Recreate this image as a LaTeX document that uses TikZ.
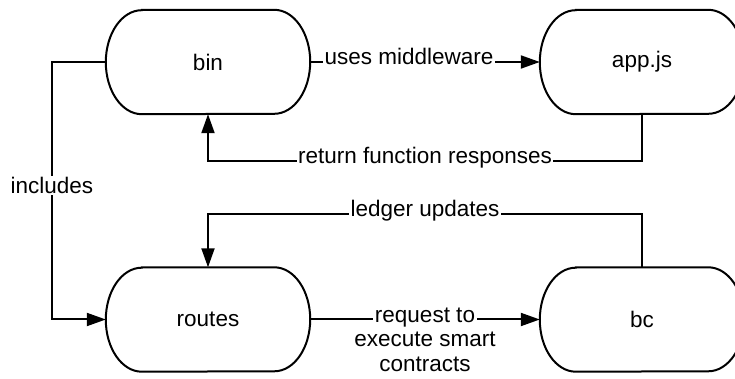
\documentclass[tikz,border=0pt]{standalone}
\usepackage{fontspec}
\setmainfont{Liberation Sans}
\usetikzlibrary{arrows.meta}
\begin{document}
\begin{tikzpicture}[x=1pt,y=1pt,
  every node/.append style={font=\fontsize{22.5}{24.5}\selectfont},
  term/.style={minimum width=204pt,minimum height=104pt,inner sep=0pt},
  conn/.style={line width=2pt},
  arr/.style={conn,-{Triangle[length=19pt,width=13pt]}},
  lbl/.style={fill=white,inner sep=1.5pt,anchor=mid},
  plain/.style={inner sep=0pt,anchor=base}]
\useasboundingbox (0,0) rectangle (735,379);
\node[term] (bin) at (208,317) {bin};
\node[term] (app) at (642,317) {app.js};
\node[term] (routes) at (208,59.5) {routes};
\node[term] (bc) at (642,59.5) {bc};
\foreach \n in {bin,app,routes,bc}{
  \draw[line width=2pt] ([xshift=36pt]\n.north west) -- ([xshift=-36pt]\n.north east)
    arc[start angle=90,end angle=-90,x radius=36pt,y radius=52pt]
    -- ([xshift=36pt]\n.south west)
    arc[start angle=270,end angle=90,x radius=36pt,y radius=52pt] -- cycle;}
\draw[arr] (bin.east) -- node[lbl,pos=0.43]{uses middleware} (app.west);
\draw[arr] (app.south) -- ++(0,-47) -| node[lbl,pos=0.25]{return function responses} (bin.south);
\draw[arr] (bin.west) -- ++(-54,0) |- node[lbl,pos=0.25]{includes} (routes.west);
\draw[arr] (bc.north) -- ++(0,53) -| node[lbl,pos=0.25]{ledger updates} (routes.north);
\draw[arr] (routes.east) -- node[lbl] (req) {request to} (bc.west);
\node[plain] (req2) at ([yshift=-24.5pt]req.base) {execute smart};
\node[plain] (req3) at ([yshift=-24.5pt]req2.base) {contracts};
\end{tikzpicture}
\end{document}
